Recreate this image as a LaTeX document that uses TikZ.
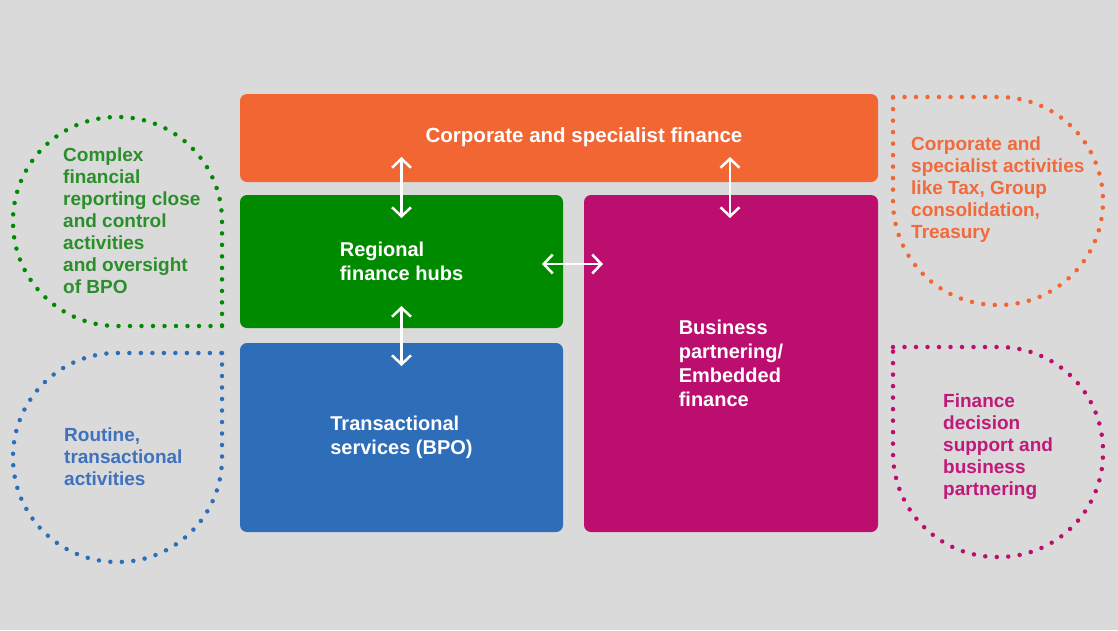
\documentclass[tikz,border=0pt]{standalone}
\usepackage{fontspec}
\setmainfont{Liberation Sans}
\usetikzlibrary{arrows.meta}
\definecolor{bg}{HTML}{DADADA}
\definecolor{corpc}{HTML}{F26633}
\definecolor{regc}{HTML}{008A00}
\definecolor{transc}{HTML}{2E6DB8}
\definecolor{busc}{HTML}{BB0E6F}
\definecolor{corpt}{HTML}{F06A3D}
\definecolor{regt}{HTML}{2A8F2A}
\definecolor{transt}{HTML}{3F72BE}
\definecolor{bust}{HTML}{C0197A}
\begin{document}
\begin{tikzpicture}[x=1pt,y=-1pt,
  box/.style={rounded corners=7pt, inner sep=0pt, text=white, align=left,
    font=\fontsize{20}{24}\selectfont\bfseries},
  dots/.style={line width=4.5pt, line cap=round, dash pattern=on 0pt off 11.5pt, rounded corners=104pt},
  side/.style={anchor=west, align=left, inner sep=0pt, font=\fontsize{19}{22}\selectfont\bfseries},
  dbl/.style={white, line width=2.5pt, {Straight Barb[length=9pt,width=19pt]}-{Straight Barb[length=9pt,width=19pt]}}
]
\fill[bg] (0,0) rectangle (1118,630);
\useasboundingbox (0,0) rectangle (1118,630);

% boxes
\node[box, fill=corpc, minimum width=638pt, minimum height=88pt] (corp) at (559,138) {};
\node[box, font=\fontsize{20.5}{24}\selectfont\bfseries] (corptitle) at (584,137) {Corporate and specialist finance};
\node[box, fill=regc, minimum width=323pt, minimum height=133pt] (reg) at (401.5,261.5) {Regional\\finance hubs};
\node[box, fill=transc, minimum width=323pt, minimum height=189pt] (trans) at (401.5,437.5) {Transactional\\services (BPO)};
\node[box, fill=busc, minimum width=294pt, minimum height=337pt] (bus) at (731,363.5) {Business\\partnering/\\Embedded\\finance};

% arrows
\coordinate (a1s) at (401.5,157); \coordinate (a1e) at (401.5,218);
\coordinate (a2s) at (401.5,306); \coordinate (a2e) at (401.5,366);
\coordinate (a3s) at (542,264);   \coordinate (a3e) at (603,264);
\coordinate (a4s) at (730,157);   \coordinate (a4e) at (730,218);
\draw[dbl] (a1s) -- (a1e);
\draw[dbl] (a2s) -- (a2e);
\draw[dbl] (a3s) -- (a3e);
\draw[dbl] (a4s) -- (a4e);

% dotted teardrops
\draw[dots, regc] (222,326) -- (13,326) -- (13,117) -- (222,117) -- (222,326);
\draw[dots, transc] (222,353) -- (222,562) -- (13,562) -- (13,353) -- (222,353);
\draw[dots, corpc] (893,97) -- (1103,97) -- (1103,305) -- (893,305) -- (893,97);
\draw[dots, busc] (893,347) -- (1103,347) -- (1103,557) -- (893,557) -- (893,347);

% side texts
\node[side, text=regt] (regtxt) at (63,221) {Complex\\financial\\reporting close\\and control\\activities\\and oversight\\of BPO};
\node[side, text=transt] (transtxt) at (64,457) {Routine,\\transactional\\activities};
\node[side, text=corpt] (corptxt) at (911,189.5) {Corporate and\\specialist activities\\like Tax, Group\\consolidation,\\Treasury};
\node[side, text=bust] (bustxt) at (943,447) {Finance\\decision\\support and\\business\\partnering};
\end{tikzpicture}
\end{document}
